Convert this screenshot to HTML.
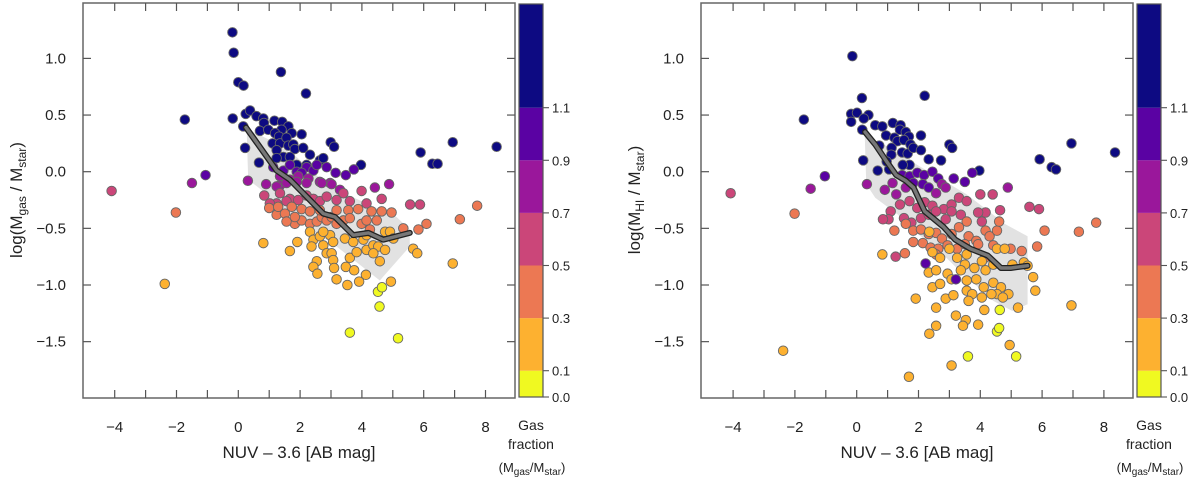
<!DOCTYPE html>
<html><head><meta charset="utf-8">
<style>
html,body{margin:0;padding:0;background:#fff;}
svg{display:block;font-family:"Liberation Sans",sans-serif;}
</style></head>
<body>
<svg id="chart" width="1200" height="478" viewBox="0 0 1200 478" xmlns="http://www.w3.org/2000/svg"></svg>
<script>
// ---------- DATA ----------
const xTicks = [-4,-3,-2,-1,0,1,2,3,4,5,6,7,8];
const xTickLabels = ["\u22124","\u22122","0","2","4","6","8"];
const xLabelVals = [-4,-2,0,2,4,6,8];
const yTickVals = [1.0,0.5,0.0,-0.5,-1.0,-1.5];
const yTickLabels = ["1.0","0.5","0.0","\u22120.5","\u22121.0","\u22121.5"];
const cbBounds = [0.0,0.1,0.3,0.5,0.7,0.9,1.1,1.5];
const cbColors = ["#f0f921","#fdb130","#ec7853","#cb4679","#9a179b","#5a02a3","#0d0a82"];
const cbTickVals = [0.0,0.1,0.3,0.5,0.7,0.9,1.1];
const cbTickLabels = ["0.0","0.1","0.3","0.5","0.7","0.9","1.1"];

// left panel points [x, y, gas fraction]
const leftPts = [
[-0.19,1.23,1.3],[-0.15,1.05,1.3],[0.00,0.79,1.3],[0.17,0.76,1.3],[1.38,0.88,1.3],[2.19,0.69,1.3],[-1.73,0.46,1.3],[-0.18,0.47,1.3],
[0.24,0.51,1.3],[0.38,0.54,1.3],[0.16,0.40,1.3],[0.59,0.49,1.3],[0.81,0.47,1.3],[0.83,0.43,1.3],[0.70,0.36,1.3],[0.97,0.37,1.3],
[1.17,0.45,1.3],[1.42,0.44,1.3],[1.62,0.40,1.3],[1.40,0.37,1.3],[1.19,0.34,1.3],[1.73,0.34,1.3],[2.05,0.33,1.3],[1.32,0.31,1.3],
[1.11,0.25,1.3],[1.35,0.25,1.3],[1.56,0.30,1.3],[1.62,0.23,1.3],[1.78,0.24,1.3],[1.83,0.20,1.3],[2.10,0.21,1.3],[0.22,0.21,1.3],
[0.67,0.08,1.3],[1.24,0.19,1.3],[1.46,0.13,1.3],[1.24,0.12,1.3],[1.67,0.13,1.3],[2.32,0.15,1.3],[2.64,0.10,1.3],[2.75,0.12,1.3],
[1.89,0.06,1.3],[2.21,0.06,1.3],[2.99,0.26,1.3],[3.10,0.22,1.3],[3.97,0.06,1.3],[5.90,0.17,1.3],[6.28,0.07,1.3],[6.45,0.07,1.3],
[6.94,0.26,1.3],[8.36,0.22,1.3],
[-1.06,-0.03,1.0],[1.13,0.04,1.0],[1.46,0.01,1.0],[1.89,0.00,1.0],[2.21,0.04,1.0],[2.43,0.01,1.0],[1.67,0.06,1.0],[2.05,-0.01,1.0],
[2.54,0.06,1.0],[2.86,0.04,1.0],[3.15,-0.01,1.0],[3.48,-0.03,1.0],[3.74,0.02,1.0],
[-1.50,-0.10,0.8],[0.31,-0.08,0.8],[0.90,-0.11,0.8],[1.35,-0.04,0.8],[1.67,-0.07,0.8],[1.94,-0.04,0.8],[2.27,-0.06,0.8],[2.64,-0.09,0.8],
[2.97,-0.10,0.8],[4.42,-0.14,0.8],[4.88,-0.11,0.8],[1.35,-0.12,0.8],[1.24,-0.13,0.8],[1.56,-0.10,0.8],[1.89,-0.09,0.8],[2.21,-0.10,0.8],
[2.70,-0.10,0.8],[3.02,-0.11,0.8],[3.29,-0.16,0.8],
[-4.10,-0.17,0.6],[0.84,-0.21,0.6],[1.35,-0.19,0.6],[1.67,-0.24,0.6],[1.94,-0.25,0.6],[2.21,-0.21,0.6],[2.43,-0.24,0.6],[2.64,-0.26,0.6],
[2.86,-0.22,0.6],[3.18,-0.25,0.6],[3.40,-0.19,0.6],[3.61,-0.26,0.6],[3.99,-0.17,0.6],[4.15,-0.28,0.6],[4.64,-0.24,0.6],[5.56,-0.29,0.6],
[5.88,-0.29,0.6],[1.24,-0.28,0.6],[1.56,-0.26,0.6],[1.02,-0.28,0.6],
[-2.02,-0.36,0.4],[1.00,-0.32,0.4],[1.24,-0.38,0.4],[1.51,-0.37,0.4],[1.73,-0.31,0.4],[2.05,-0.33,0.4],[2.32,-0.35,0.4],[1.83,-0.46,0.4],
[1.56,-0.44,0.4],[2.05,-0.43,0.4],[2.32,-0.46,0.4],[2.54,-0.44,0.4],[2.70,-0.40,0.4],[2.86,-0.43,0.4],[3.02,-0.40,0.4],[3.18,-0.46,0.4],
[3.40,-0.43,0.4],[3.56,-0.34,0.4],[3.61,-0.41,0.4],[3.88,-0.33,0.4],[3.99,-0.46,0.4],[4.15,-0.43,0.4],[4.31,-0.35,0.4],[4.48,-0.43,0.4],
[4.64,-0.35,0.4],[4.96,-0.36,0.4],[5.34,-0.50,0.4],[5.83,-0.51,0.4],[6.09,-0.46,0.4],[7.17,-0.42,0.4],[7.73,-0.30,0.4],[1.29,-0.31,0.4],
[1.83,-0.40,0.4],[2.64,-0.34,0.4],[3.18,-0.34,0.4],[4.26,-0.51,0.4],
[-2.38,-0.99,0.2],[0.81,-0.63,0.2],[1.67,-0.70,0.2],[1.91,-0.62,0.2],[2.32,-0.53,0.2],[2.43,-0.60,0.2],[2.37,-0.66,0.2],[2.64,-0.57,0.2],
[2.75,-0.65,0.2],[2.97,-0.56,0.2],[3.07,-0.62,0.2],[2.86,-0.72,0.2],[3.02,-0.72,0.2],[2.54,-0.79,0.2],[2.43,-0.84,0.2],[2.56,-0.90,0.2],
[3.07,-0.78,0.2],[3.10,-0.85,0.2],[3.48,-0.84,0.2],[3.75,-0.87,0.2],[3.18,-0.95,0.2],[3.53,-1.00,0.2],[3.91,-0.97,0.2],[4.13,-0.91,0.2],
[3.61,-0.76,0.2],[3.83,-0.71,0.2],[3.45,-0.59,0.2],[3.72,-0.62,0.2],[4.05,-0.60,0.2],[4.15,-0.69,0.2],[4.37,-0.65,0.2],[4.53,-0.66,0.2],
[4.75,-0.69,0.2],[4.58,-0.79,0.2],[4.75,-0.53,0.2],[4.91,-0.53,0.2],[5.02,-0.59,0.2],[4.37,-0.72,0.2],[5.66,-0.68,0.2],[5.79,-0.72,0.2],
[6.94,-0.81,0.2],[4.94,-0.97,0.2],[4.15,-0.56,0.2],[2.75,-0.53,0.2],
[4.52,-1.06,0.05],[4.65,-1.02,0.05],[4.57,-1.19,0.05],[3.61,-1.42,0.05],[5.17,-1.47,0.05]
];
const leftMedX = [0.25,1.24,1.67,2.75,3.13,3.72,4.21,4.69,5.55];
const leftMedY = [0.39,0.01,-0.07,-0.37,-0.40,-0.56,-0.54,-0.60,-0.54];
const leftShadeX = [0.27,1.02,1.89,2.43,3.18,4.15,5.12,5.55,5.55,4.58,3.18,1.24,0.75,0.32];
const leftShadeY = [0.38,0.28,0.13,-0.01,-0.16,-0.28,-0.40,-0.51,-0.66,-0.96,-0.66,-0.31,-0.16,-0.07];

// right panel points [x, y, gas fraction]
const rightPts = [
[-0.14,1.02,1.3],[-1.71,0.46,1.3],[0.17,0.65,1.3],[2.20,0.67,1.3],[-0.18,0.51,1.3],[0.01,0.52,1.3],[0.38,0.50,1.3],[0.23,0.47,1.3],
[-0.18,0.44,1.3],[0.18,0.37,1.3],[0.21,0.10,1.3],[0.68,0.01,1.3],[0.60,0.41,1.3],[0.83,0.40,1.3],[0.95,0.32,1.3],[0.73,0.23,1.3],
[1.17,0.43,1.3],[1.42,0.41,1.3],[1.40,0.37,1.3],[1.22,0.30,1.3],[1.59,0.35,1.3],[1.69,0.31,1.3],[1.32,0.27,1.3],[1.53,0.28,1.3],
[1.74,0.24,1.3],[2.08,0.32,1.3],[1.13,0.21,1.3],[1.47,0.17,1.3],[1.65,0.16,1.3],[1.83,0.21,1.3],[2.08,0.19,1.3],[1.12,0.15,1.3],
[2.33,0.11,1.3],[2.73,0.10,1.3],[3.00,0.24,1.3],[3.09,0.21,1.3],[1.71,0.06,1.3],[1.49,0.06,1.3],[1.05,0.02,1.3],[0.97,0.09,1.3],
[5.92,0.11,1.3],[6.31,0.04,1.3],[6.45,0.02,1.3],[6.95,0.25,1.3],[8.36,0.17,1.3],[3.97,0.01,1.3],
[-1.03,-0.04,1.0],[3.74,-0.01,1.0],[3.14,-0.06,1.0],[3.50,-0.09,1.0],[1.47,-0.03,1.0],[1.71,-0.04,1.0],[1.96,-0.01,1.0],[2.18,-0.03,1.0],
[2.45,0.00,1.0],[2.64,-0.06,1.0],[1.83,-0.10,1.0],[2.14,-0.11,1.0],[2.33,-0.14,1.0],
[-1.49,-0.15,0.8],[0.33,-0.11,0.8],[4.89,-0.14,0.8],[2.57,-0.19,0.8],[1.59,-0.14,0.8],[1.28,-0.20,0.8],[1.16,-0.10,0.8],[0.91,-0.16,0.8],
[2.76,-0.11,0.8],[2.88,-0.14,0.8],
[-4.08,-0.19,0.6],[4.40,-0.20,0.6],[4.00,-0.20,0.6],[1.71,-0.26,0.6],[1.96,-0.32,0.6],[2.20,-0.27,0.6],[2.45,-0.30,0.6],[2.82,-0.33,0.6],
[3.07,-0.29,0.6],[3.31,-0.23,0.6],[3.56,-0.26,0.6],[1.40,-0.29,0.6],[1.10,-0.35,0.6],[1.03,-0.42,0.6],[0.85,-0.42,0.6],[1.53,-0.41,0.6],
[1.77,-0.45,0.6],[2.08,-0.41,0.6],[2.33,-0.38,0.6],[2.57,-0.35,0.6],[2.88,-0.42,0.6],[3.07,-0.35,0.6],[3.37,-0.38,0.6],[4.05,-0.44,0.6],
[4.17,-0.36,0.6],[3.93,-0.36,0.6],[4.64,-0.34,0.6],[5.59,-0.31,0.6],[5.90,-0.33,0.6],[1.26,-0.75,0.6],
[-2.01,-0.37,0.4],[1.22,-0.52,0.4],[1.59,-0.46,0.4],[1.83,-0.52,0.4],[2.08,-0.51,0.4],[2.33,-0.55,0.4],[2.57,-0.54,0.4],[2.76,-0.59,0.4],
[3.07,-0.55,0.4],[3.31,-0.49,0.4],[3.56,-0.44,0.4],[3.62,-0.57,0.4],[3.87,-0.61,0.4],[4.17,-0.52,0.4],[4.30,-0.57,0.4],[4.54,-0.52,0.4],
[4.61,-0.44,0.4],[1.83,-0.62,0.4],[1.56,-0.72,0.4],[2.14,-0.63,0.4],[2.39,-0.67,0.4],[2.64,-0.68,0.4],[2.94,-0.65,0.4],[3.25,-0.68,0.4],
[3.50,-0.64,0.4],[3.93,-0.64,0.4],[4.42,-0.65,0.4],[4.98,-0.68,0.4],[5.34,-0.70,0.4],[5.84,-0.66,0.4],[6.08,-0.52,0.4],[7.19,-0.53,0.4],
[7.75,-0.45,0.4],[4.15,-0.76,0.4],[2.57,-0.73,0.4],
[-2.38,-1.58,0.2],[0.83,-0.73,0.2],[2.35,-0.53,0.2],[2.45,-0.71,0.2],[2.70,-0.76,0.2],[3.00,-0.68,0.2],[3.25,-0.76,0.2],[3.56,-0.73,0.2],
[3.50,-0.82,0.2],[3.81,-0.85,0.2],[4.05,-0.79,0.2],[4.17,-0.87,0.2],[4.42,-0.82,0.2],[4.54,-0.68,0.2],[4.79,-0.68,0.2],[5.04,-0.82,0.2],
[5.41,-0.80,0.2],[5.53,-0.83,0.2],[2.33,-0.89,0.2],[2.57,-0.87,0.2],[2.94,-0.90,0.2],[3.07,-0.95,0.2],[3.37,-0.87,0.2],[3.56,-0.96,0.2],
[3.87,-0.95,0.2],[4.11,-1.02,0.2],[4.42,-0.98,0.2],[4.67,-1.02,0.2],[4.54,-1.08,0.2],[4.91,-1.08,0.2],[2.45,-1.02,0.2],[2.70,-0.99,0.2],
[3.56,-1.05,0.2],[3.74,-1.08,0.2],[4.05,-1.11,0.2],[4.36,-1.08,0.2],[4.73,-1.11,0.2],[1.91,-1.12,0.2],[2.88,-1.12,0.2],[3.13,-1.09,0.2],
[3.62,-1.14,0.2],[5.71,-0.93,0.2],[5.78,-1.05,0.2],[6.95,-1.18,0.2],[5.22,-1.20,0.2],[4.13,-1.22,0.2],[2.57,-1.20,0.2],[3.21,-1.27,0.2],
[3.53,-1.31,0.2],[2.57,-1.36,0.2],[2.35,-1.43,0.2],[3.93,-1.35,0.2],[3.44,-1.36,0.2],[4.95,-1.53,0.2],[3.07,-1.71,0.2],[1.69,-1.81,0.2],
[2.23,-0.81,0.95],[3.21,-0.95,0.95],
[4.63,-1.22,0.05],[4.54,-1.41,0.05],[4.61,-1.38,0.05],[3.60,-1.63,0.05],[5.16,-1.63,0.05]
];
const rightMedX = [0.27,0.60,0.97,1.28,1.59,1.84,2.20,2.82,3.19,3.68,4.24,4.67,4.98,5.53];
const rightMedY = [0.35,0.24,0.09,-0.03,-0.08,-0.14,-0.35,-0.49,-0.60,-0.68,-0.74,-0.85,-0.85,-0.83];
const rightShadeX = [0.26,1.10,1.96,2.70,3.56,4.42,4.79,5.53,5.53,5.04,4.42,3.93,3.31,2.57,1.83,1.34,0.60,0.31];
const rightShadeY = [0.32,0.21,0.06,-0.06,-0.20,-0.38,-0.46,-0.57,-1.17,-1.23,-1.14,-1.02,-0.87,-0.67,-0.52,-0.38,-0.23,-0.11];

// ---------- DRAW ----------
const NS = "http://www.w3.org/2000/svg";
const svg = document.getElementById("chart");
function mk(tag, attrs, parent){
  const e = document.createElementNS(NS, tag);
  for (const k in attrs) e.setAttribute(k, attrs[k]);
  (parent||svg).appendChild(e);
  return e;
}
function colorFor(f){
  for (let i=0;i<cbColors.length;i++){ if (f < cbBounds[i+1]) return cbColors[i]; }
  return cbColors[cbColors.length-1];
}

function drawPanel(p){
  const sx = v => p.x0 + v*p.kx;
  const sy = v => p.y0 - v*p.ky;
  const g = mk("g", {});
  
  

  let pts = p.shadeX.map((v,i)=> sx(v)+","+sy(p.shadeY[i])).join(" ");
  const sh = mk("polygon", {points: pts, fill:"#e2e2e2", stroke:"none"}, g);
  
  

  const pg = mk("g", {}, g);
  
  
  p.pts.forEach(d=>{
    const c = mk("circle", {cx:sx(d[0]), cy:sy(d[1]), r:p.r, fill:colorFor(d[2]), stroke:"#666", "stroke-width":0.9}, pg);
    
    
  });

  const lp = p.medX.map((v,i)=> sx(v)+","+sy(p.medY[i])).join(" ");
  const l1 = mk("polyline", {points: lp, fill:"none", stroke:"#222", "stroke-width":6, "stroke-linejoin":"round", "stroke-linecap":"round"}, g);
  
  
  const l2 = mk("polyline", {points: lp, fill:"none", stroke:"#777", "stroke-width":3.4, "stroke-linejoin":"round", "stroke-linecap":"round"}, g);
  
  

  const fr = mk("rect", {x:p.bx0, y:p.by0, width:p.bx1-p.bx0, height:p.by1-p.by0, fill:"none", stroke:"#666", "stroke-width":1.5}, g);
  
  

  xTicks.forEach(v=>{
    const X = sx(v);
    mk("line",{x1:X,y1:p.by1,x2:X,y2:p.by1-8,stroke:"#555","stroke-width":1.2},g);
    mk("line",{x1:X,y1:p.by0,x2:X,y2:p.by0+8,stroke:"#555","stroke-width":1.2},g);
  });
  xLabelVals.forEach((v,i)=>{
    const t = mk("text",{x:sx(v), y:432, "font-size":15, "text-anchor":"middle", fill:"#222"},g);
    t.textContent = xTickLabels[i];
    
    
  });
  yTickVals.forEach((v,i)=>{
    const Y = sy(v);
    mk("line",{x1:p.bx0,y1:Y,x2:p.bx0+8,y2:Y,stroke:"#555","stroke-width":1.2},g);
    mk("line",{x1:p.bx1,y1:Y,x2:p.bx1-8,y2:Y,stroke:"#555","stroke-width":1.2},g);
    const t = mk("text",{x:p.bx0-17, y:Y+5, "font-size":15, "text-anchor":"end", fill:"#222"},g);
    t.textContent = yTickLabels[i];
    
    
  });

  const xt = mk("text",{x:(p.bx0+p.bx1)/2, y:458, "font-size":17, "text-anchor":"middle", fill:"#222"},g);
  xt.textContent = "NUV \u2013 3.6 [AB mag]";
  
  
  const yt = mk("text",{x:0, y:0, "font-size":17, "text-anchor":"middle", fill:"#222", transform:"translate("+p.ytx+",200) rotate(-90)"},g);
  yt.innerHTML = 'log(M<tspan font-size="12" dy="4">'+p.sub+'</tspan><tspan dy="-4"> / M</tspan><tspan font-size="12" dy="4">star</tspan><tspan dy="-4">)</tspan>';
  
  

  const cy = v => 397 - v*263;
  const cb = mk("g",{},g);
  
  
  cbColors.forEach((c,i)=>{
    const y1 = Math.max(cy(cbBounds[i+1]),4), y0 = cy(cbBounds[i]);
    const r = mk("rect",{x:p.cbx, y:y1, width:p.cbw, height:y0-y1, fill:c},cb);
    
    
  });
  mk("rect",{x:p.cbx, y:4, width:p.cbw, height:393, fill:"none", stroke:"#555", "stroke-width":1.2},cb);
  cbTickVals.forEach((v,i)=>{
    const Y = cy(v);
    mk("line",{x1:p.cbx+p.cbw, y1:Y, x2:p.cbx+p.cbw+6, y2:Y, stroke:"#555","stroke-width":1.1},cb);
    const t = mk("text",{x:p.cbx+p.cbw+9, y:Y+5, "font-size":13, fill:"#222"},cb);
    t.textContent = cbTickLabels[i];
    
    
  });
  const cxm = p.cbx + p.cbw/2;
  const a = mk("text",{x:cxm, y:430, "font-size":14, "text-anchor":"middle", fill:"#222"},cb);
  a.textContent = "Gas";
  
  
  const b = mk("text",{x:cxm, y:449, "font-size":14, "text-anchor":"middle", fill:"#222"},cb);
  b.textContent = "fraction";
  
  
  const c3 = mk("text",{x:cxm+1, y:472, "font-size":13, "text-anchor":"middle", fill:"#222"},cb);
  c3.innerHTML = '(M<tspan font-size="10" dy="3">gas</tspan><tspan dy="-3">/M</tspan><tspan font-size="10" dy="3">star</tspan><tspan dy="-3">)</tspan>';
  
  
}

drawPanel({name:"left-panel-gas", x0:238.3, kx:30.9, y0:171.7, ky:113.3, bx0:83, bx1:515, by0:3, by1:398,
  r:4.8, pts:leftPts, medX:leftMedX, medY:leftMedY, shadeX:leftShadeX, shadeY:leftShadeY,
  cbx:519, cbw:24, ytx:22, sub:"gas"});
drawPanel({name:"right-panel-hi", x0:856.7, kx:30.9, y0:171.7, ky:113.3, bx0:701, bx1:1133, by0:3, by1:398,
  r:4.8, pts:rightPts, medX:rightMedX, medY:rightMedY, shadeX:rightShadeX, shadeY:rightShadeY,
  cbx:1137, cbw:24, ytx:640, sub:"HI"});
</script>
</body></html>
